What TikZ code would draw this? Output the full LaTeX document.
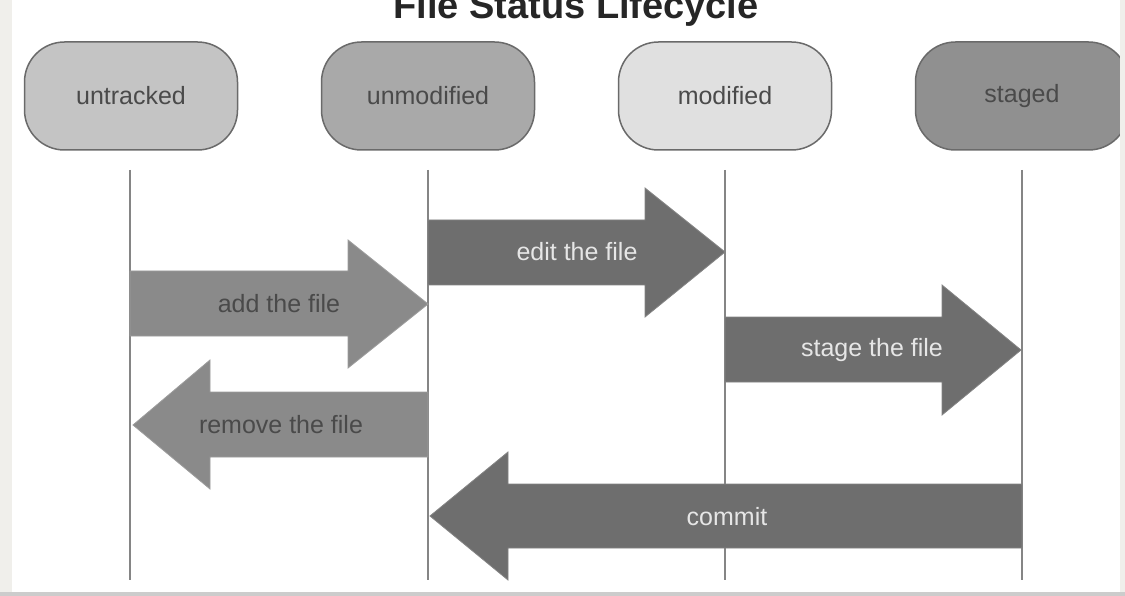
\documentclass[tikz,border=0pt]{standalone}
\usepackage{fontspec}
\setmainfont{Liberation Sans}
\definecolor{stripc}{HTML}{F0EFEB}
\definecolor{edgec}{HTML}{6A6A6A}
\definecolor{linec}{HTML}{858585}
\definecolor{funtracked}{HTML}{C4C4C4}
\definecolor{funmodified}{HTML}{A9A9A9}
\definecolor{fmodified}{HTML}{E0E0E0}
\definecolor{fstaged}{HTML}{909090}
\definecolor{lightarrow}{HTML}{8A8A8A}
\definecolor{darkarrow}{HTML}{6E6E6E}
\definecolor{darktext}{HTML}{4A4A4A}
\definecolor{lighttext}{HTML}{E6E6E6}
\tikzset{
  state/.style={draw=edgec, line width=1.5pt, rounded corners=40pt,
    minimum width=213pt, minimum height=108pt, inner sep=0pt,
    font=\fontsize{25}{30}\selectfont, text=darktext},
  lifeline/.style={draw=linec, line width=1.6pt},
  lightblock/.style={fill=lightarrow, draw=lightarrow!85!white, line width=0.8pt},
  darkblock/.style={fill=darkarrow, draw=darkarrow!85!white, line width=0.8pt},
  lightlabel/.style={font=\fontsize{25}{30}\selectfont, text=darktext, inner sep=0pt},
  darklabel/.style={font=\fontsize{25}{30}\selectfont, text=lighttext, inner sep=0pt},
}
\begin{document}
\begin{tikzpicture}[x=1pt,y=-1pt]
\useasboundingbox (0,0) rectangle (1125,596);
\fill[white] (0,0) rectangle (1125,596);
% title
\node[anchor=base, font=\bfseries\fontsize{38}{44}\selectfont, text=black!85, inner sep=0pt] (title) at (576,19) {File Status Lifecycle};
% states
\node[state, fill=funtracked] (untracked) at (131,96) {untracked};
\node[state, fill=funmodified] (unmodified) at (428,96) {unmodified};
\node[state, fill=fmodified] (modified) at (725,96) {modified};
\node[state, fill=fstaged] (staged) at (1022,96) {staged};
% lifelines
\coordinate (l1) at (130,170);
\coordinate (l2) at (428,170);
\coordinate (l3) at (725,170);
\coordinate (l4) at (1022,170);
\foreach \c in {l1,l2,l3,l4}{\draw[lifeline] (\c) -- ++(0,410);}
% add the file
\draw[lightblock] (130,271) -- (348,271) -- (348,240) -- (428,304) -- (348,368) -- (348,336) -- (130,336) -- cycle;
\node[lightlabel] (add) at (279,304) {add the file};
% remove the file
\draw[lightblock] (428,392) -- (210,392) -- (210,360) -- (133,425) -- (210,489) -- (210,457) -- (428,457) -- cycle;
\node[lightlabel] (remove) at (281,425) {remove the file};
% edit the file
\draw[darkblock] (428,220) -- (645,220) -- (645,188) -- (725,252) -- (645,317) -- (645,285) -- (428,285) -- cycle;
\node[darklabel] (edit) at (577,252) {edit the file};
% stage the file
\draw[darkblock] (725,317) -- (942,317) -- (942,285) -- (1021,350) -- (942,415) -- (942,382) -- (725,382) -- cycle;
\node[darklabel] (stage) at (872,350) {stage the file};
% commit
\draw[darkblock] (1022,484) -- (508,484) -- (508,452) -- (430,516) -- (508,580) -- (508,548) -- (1022,548) -- cycle;
\node[darklabel] (commit) at (727,517) {commit};
% page borders
\fill[stripc] (0,0) rectangle (12,596);
\fill[stripc] (1120,0) rectangle (1125,596);
\fill[black!20] (0,592) rectangle (1125,596);
\end{tikzpicture}
\end{document}
